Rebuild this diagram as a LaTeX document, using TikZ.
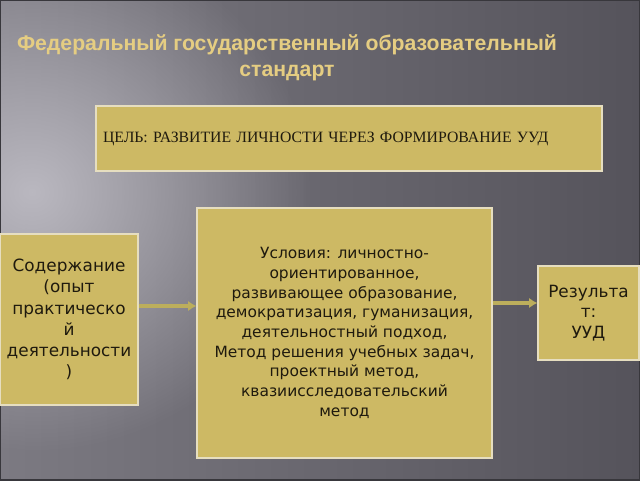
\documentclass[tikz,border=0pt]{standalone}
\usepackage{fontspec}
\setmainfont{DejaVu Sans}
\newfontfamily\titlefont{Liberation Sans}
\newfontfamily\goalfont{Liberation Serif}
\usepackage{tikz}
\usetikzlibrary{arrows, arrows.meta, positioning, shapes, fadings}

\definecolor{bgdark}{HTML}{55535B}
\definecolor{bgleft}{HTML}{7C7A82}
\definecolor{bglight}{HTML}{BAB8C0}
\definecolor{bgframe}{HTML}{38373C}
\definecolor{boxfill}{HTML}{CDB964}
\definecolor{boxline}{HTML}{E6DEC0}
\definecolor{boxtext}{HTML}{1F1A0E}
\definecolor{arrowcol}{HTML}{BCAE5C}
\definecolor{titlecol}{HTML}{E5CD82}

\tikzfading[name=glow, inner color=transparent!0, outer color=transparent!100]

\tikzset{
  box/.style   = {draw=boxline, line width=0.8pt, fill=boxfill, text=boxtext, align=center, inner sep=0pt},
  flow/.style  = {draw=arrowcol, line width=2.4pt, -{Latex[length=6pt, width=7.5pt]}},
  heading/.style = {text=titlecol, align=center, font=\titlefont\bfseries\fontsize{15.1}{18.4}\selectfont}
}

\begin{document}
\begin{tikzpicture}
\useasboundingbox (0,0) rectangle (16,12);

% background of the slide
\begin{scope}
\clip (0,0) rectangle (16,12);
\shade [left color=bgleft, right color=bgdark] (0,0) rectangle (16,12);
\fill [bglight, path fading=glow, fit fading=true] (0.8,7.2) ellipse (7 and 6.5);
\end{scope}
\draw [bgframe, line width=1.2pt] (0,0) rectangle (16,12);

\node [heading] (titel) at (7.175,10.55) {Федеральный государственный образовательный\\стандарт};

\node [box, minimum width=12.65cm, minimum height=1.625cm, text width=12.3cm, align=left,
       font=\goalfont\fontsize{11.2}{13}\selectfont] (goal) at (8.725,8.5375)
      {ЦЕЛЬ: РАЗВИТИЕ ЛИЧНОСТИ ЧЕРЕЗ ФОРМИРОВАНИЕ УУД};

\node [box, minimum width=3.45cm , minimum height=4.275cm, font=\fontsize{12}{15.1}\selectfont] (soder)  at (1.725,4.0125)
      {Содержание\\(опыт\\практическо\\й\\деятельности\\)};
\node [box, minimum width=7.375cm, minimum height=6.25cm , font=\fontsize{11}{14}\selectfont]   (uslov)  at (8.6125,3.675)
      {Условия: личностно-\\ориентированное,\\развивающее образование,\\демократизация, гуманизация,\\деятельностный подход,\\Метод решения учебных задач,\\проектный метод,\\квазиисследовательский\\метод};
\node [box, minimum width=2.525cm, minimum height=2.35cm , font=\fontsize{12}{14.5}\selectfont] (rezult) at (14.7125,4.175)
      {Результа\\т:\\УУД};

\coordinate (a1) at (0,4.35);
\coordinate (a2) at (0,4.425);

\draw [flow] (soder.east |- a1) -- (uslov.west |- a1);
\draw [flow] (uslov.east |- a2) -- (rezult.west |- a2);

\end{tikzpicture}
\end{document}
